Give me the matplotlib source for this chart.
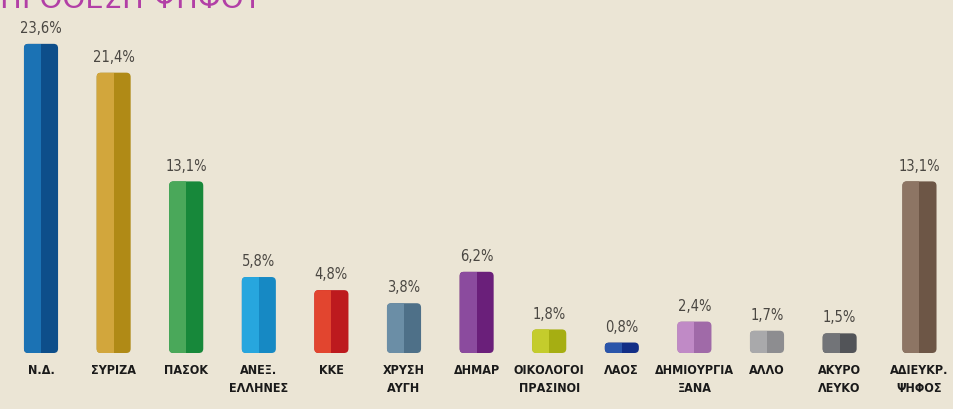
import matplotlib
matplotlib.use("Agg")
import matplotlib.pyplot as plt
from matplotlib.patches import FancyBboxPatch

# data
parties = ["Ν.Δ.", "ΣΥΡΙΖΑ", "ΠΑΣΟΚ", "ΑΝΕΞ.\nΕΛΛΗΝΕΣ", "ΚΚΕ", "ΧΡΥΣΗ\nΑΥΓΗ", "ΔΗΜΑΡ",
           "ΟΙΚΟΛΟΓΟΙ\nΠΡΑΣΙΝΟΙ", "ΛΑΟΣ", "ΔΗΜΙΟΥΡΓΙΑ\nΞΑΝΑ", "ΑΛΛΟ", "ΑΚΥΡΟ\nΛΕΥΚΟ",
           "ΑΔΙΕΥΚΡ.\nΨΗΦΟΣ"]
shares = [23.6, 21.4, 13.1, 5.8, 4.8, 3.8, 6.2, 1.8, 0.8, 2.4, 1.7, 1.5, 13.1]
labels = ["23,6%", "21,4%", "13,1%", "5,8%", "4,8%", "3,8%", "6,2%",
          "1,8%", "0,8%", "2,4%", "1,7%", "1,5%", "13,1%"]

light = ["#1b72b4", "#d2a63c", "#4aa85a", "#27a6de", "#e2452f", "#6b8ea6", "#8b4b9e",
         "#c4cc2c", "#2a55aa", "#c08ac6", "#a9a9ab", "#727478", "#8d7564"]
dark = ["#0d4e8a", "#b08a16", "#17883a", "#1689c4", "#bd1a1e", "#4e7088", "#6a1f7a",
        "#a6ae12", "#122e86", "#a06aa8", "#8d8d90", "#525458", "#6d5646"]

BG = "#ebe5d5"
px_x = 72.6   # pixels per category step
px_y = 13.1   # pixels per percent

positions = list(range(12)) + [12.1]

fig = plt.figure(figsize=(9.54, 4.09), dpi=100, facecolor=BG)
ax = fig.add_axes([0, 0, 1, 1])
ax.set_facecolor(BG)
ax.set_xlim(-41 / px_x, (954 - 41) / px_x)
ax.set_ylim(-56 / px_y, 353 / px_y)
ax.axis("off")

w = 0.47
aspect = px_x / px_y
for x, v, lab, name, c1, c2 in zip(positions, shares, labels, parties, light, dark):
    body = FancyBboxPatch((x - w / 2, 0), w, v,
                          boxstyle="round,pad=0,rounding_size=0.06",
                          mutation_aspect=aspect, facecolor=c2, edgecolor="none")
    ax.add_patch(body)
    half = ax.bar(x - w / 4, v, width=w / 2, color=c1, linewidth=0)
    for b in half:
        b.set_clip_path(body)
    ax.text(x, v + 0.6, lab, ha="center", va="bottom", fontsize=10.5,
            color="#4a4742", family="DejaVu Sans", stretch="condensed")
    ax.text(x, -0.85, name, ha="center", va="top", fontsize=9, fontweight="bold",
            color="#1a1a1a", family="DejaVu Sans", stretch="condensed",
            linespacing=1.5)

# title, mostly cut off by the top edge as in the original
ax.text(-0.56, 345 / px_y, "ΠΡΟΘΕΣΗ ΨΗΦΟΥ", ha="left", va="baseline", fontsize=21,
        color="#b23fa6", family="DejaVu Sans", clip_on=False)

fig.savefig("out.png", dpi=100, facecolor=BG)
